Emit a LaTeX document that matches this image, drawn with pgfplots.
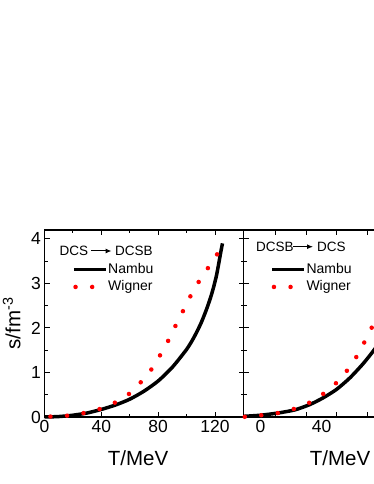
\documentclass[border=0pt]{standalone}
\usepackage{fontspec}
\setmainfont{Liberation Sans}
\usepackage{pgfplots}
\pgfplotsset{compat=1.18}
\usetikzlibrary{arrows.meta}
\pgfplotsset{
  panel/.style={
    scale only axis, height=187pt, ymin=0, ymax=4.2,
    axis line style={line width=1.1pt},
    every tick/.style={black, line width=1pt},
    major tick length=5pt, minor tick length=3pt,
    tick align=inside,
    ytick={0,1,2,3,4}, minor y tick num=1,
    /pgf/number format/assume math mode=true,
    ticklabel style={font=\fontsize{17.5}{17.5}\selectfont},
    label style={font=\fontsize{20.5}{20.5}\selectfont},
    clip=false,
    legend cell align=left,
    legend style={draw=none, fill=none, inner sep=0pt, outer sep=0pt,
      row sep=5.2pt, anchor=north west,
      font=\fontsize{14}{14}\selectfont,
      nodes={inner sep=0pt, outer sep=0pt, text height=10pt, text depth=2.5pt},
      /tikz/every even column/.append style={column sep=2pt}},
    legend image code/.code={\draw[#1] (0pt,0pt) -- (32pt,0pt);},
  },
  nambu/.style={black, line width=3.5pt},
  wigner/.style={red, line width=4.5pt, line cap=round, dash pattern=on 0pt off 16.6pt},
}
\begin{document}
\begin{tikzpicture}
\useasboundingbox (0pt,0pt) rectangle (374pt,484pt);
\clip (0pt,0pt) rectangle (374pt,484pt);
% ---------------- left panel ----------------
\begin{axis}[panel,
  at={(44.5pt,67pt)}, anchor=south west, width=199pt,
  xmin=0, xmax=140, xtick={0,40,80,120}, minor x tick num=1,
  xlabel={T/MeV}, ylabel={s/fm\textsuperscript{-3}},
  xlabel style={at={(axis description cs:0.47,-0.219)}, anchor=center},
  ylabel style={at={(axis description cs:-0.165,0.5)}, anchor=center},
  legend style={at={(axis description cs:0.1367,0.8235)}},
]
\addplot[nambu, smooth, tension=0.4, forget plot] coordinates {
 (0,0) (10,0.01) (20,0.04) (30,0.09) (40,0.17) (50,0.27) (60,0.40) (70,0.58)
 (80,0.81) (90,1.12) (100,1.52) (105,1.78) (110,2.10) (114,2.42) (117,2.70)
 (119,2.92) (121,3.18) (122.6,3.45) (124,3.70) (125.2,3.90)};
\addplot[wigner, dash phase=10.6pt, smooth, tension=0.4, forget plot] coordinates {
 (0,0) (4,0.01) (16,0.03) (28,0.09) (39,0.18) (50,0.33) (60,0.53) (68,0.79)
 (75,1.06) (81,1.37) (86.5,1.68) (91.4,2.0) (96.5,2.32) (101.6,2.65)
 (107.4,2.98) (114,3.3) (120.5,3.6) (125,3.88)};
\addlegendimage{nambu}
\addlegendentry{Nambu}
\addlegendimage{wigner, dash phase=15pt}
\addlegendentry{Wigner}
\end{axis}
% ---------------- right panel ----------------
\begin{axis}[panel,
  at={(243.5pt,67pt)}, anchor=south west, width=169.6pt,
  xmin=-11.2, xmax=100,
  xtick={10,30,50,70,90}, xticklabels={},
  extra x ticks={0,40}, extra x tick labels={0,40},
  extra x tick style={major tick length=0pt},
  ytick pos=left, yticklabels={},
  xlabel={T/MeV},
  xlabel style={at={(axis description cs:0.569,-0.219)}, anchor=center},
  legend style={at={(axis description cs:0.1563,0.8235)}},
  legend style={/tikz/every even column/.append style={column sep=3pt}},
]
\addplot[nambu, smooth, tension=0.4, forget plot] coordinates {
 (-11.2,0.015) (0,0.04) (11.5,0.09) (22.5,0.16) (32.3,0.28) (41,0.43)
 (49.8,0.62) (58.6,0.88) (67.3,1.2) (74.3,1.5) (80,1.78)};
\addplot[wigner, dash phase=15.2pt, smooth, tension=0.4, forget plot] coordinates {
 (-11.2,0) (-10.3,0.005) (0.6,0.04) (11.6,0.09) (21.8,0.18) (31.9,0.32)
 (41.1,0.52) (49.8,0.77) (56.4,1.03) (62.3,1.32) (67.3,1.63) (72.1,1.95)
 (76,2.25) (80,2.55)};
\addlegendimage{nambu}
\addlegendentry{Nambu}
\addlegendimage{wigner, dash phase=14.9pt}
\addlegendentry{Wigner}
\end{axis}
% ---------------- legend titles ----------------
\begin{scope}[every node/.style={anchor=west, inner sep=0pt, font=\fontsize{13.5}{13.5}\selectfont}]
\node at (59.5pt,233pt) {DCS};
\draw[line width=1pt, -{Latex[length=6pt,width=5pt]}] (91pt,233pt) -- (111.5pt,233pt);
\node at (115pt,233pt) {DCSB};
\node at (256pt,237.3pt) {DCSB};
\draw[line width=1pt, -{Latex[length=6pt,width=5pt]}] (293pt,237.3pt) -- (313pt,237.3pt);
\node at (317pt,237.3pt) {DCS};
\end{scope}
\end{tikzpicture}
\end{document}
